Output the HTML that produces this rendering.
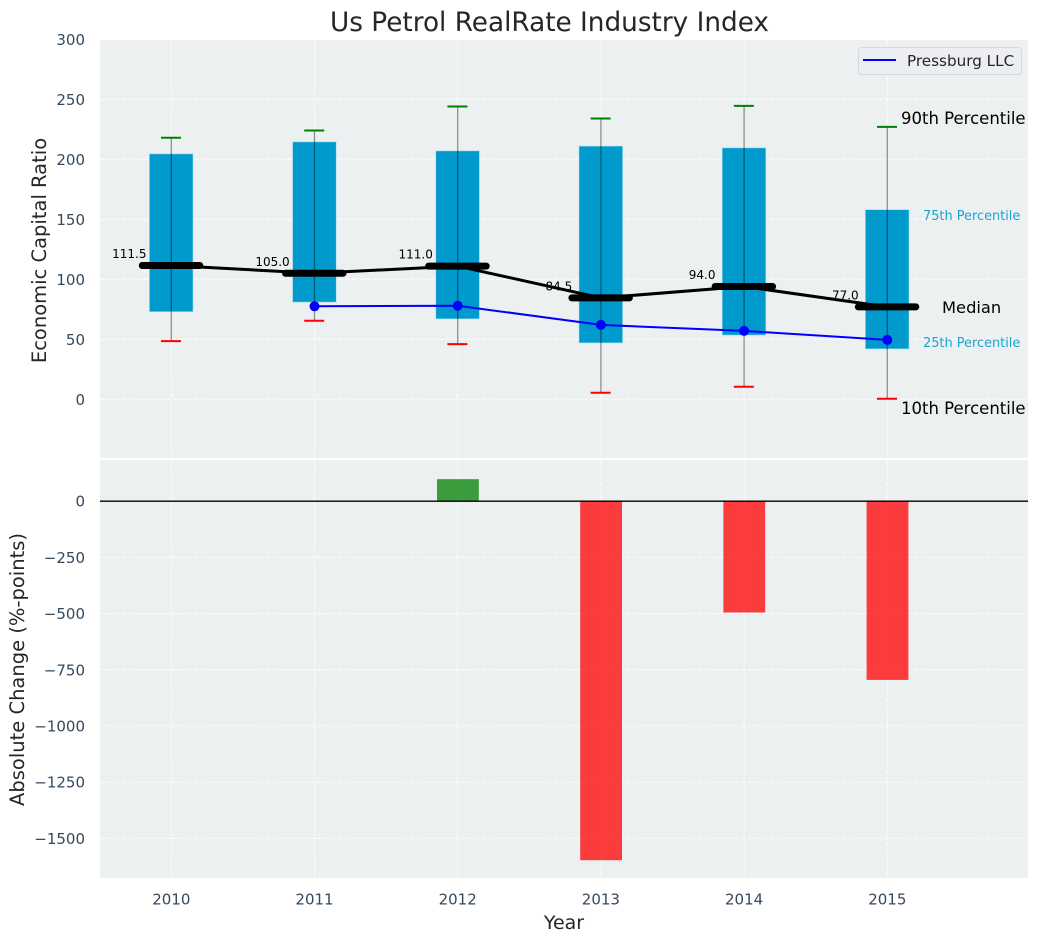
<!DOCTYPE html>
<html lang="en">
<head>
<meta charset="utf-8">
<title>Us Petrol RealRate Industry Index</title>
<style>
html,body{margin:0;padding:0;background:#fff;}
svg{display:block;font-family:"DejaVu Sans","Liberation Sans",sans-serif;}
</style>
</head>
<body>
<svg id="chart" width="1039" height="942" viewBox="0 0 1039 942" xmlns="http://www.w3.org/2000/svg">
  <defs>
    <clipPath id="clip-top"><rect x="100" y="40" width="928" height="418"/></clipPath>
    <clipPath id="clip-bottom"><rect x="100" y="460" width="928" height="418"/></clipPath>
  </defs>
  <text x="549.5" y="31" text-anchor="middle" font-size="26.3" fill="#262626">Us Petrol RealRate Industry Index</text>
  <rect x="100" y="40" width="928" height="418" fill="#ecf0f1"/>
  <rect x="100" y="460" width="928" height="418" fill="#ecf0f1"/>
  <g id="top-grid" clip-path="url(#clip-top)"></g>
  <g id="bottom-grid" clip-path="url(#clip-bottom)"></g>
  <g id="top-marks"></g>
  <g id="bottom-marks" clip-path="url(#clip-bottom)"></g>
  <g id="tick-labels"></g>
  <text transform="translate(46,250.5) rotate(-90)" text-anchor="middle" font-size="19.5" fill="#262626">Economic Capital Ratio</text>
  <text transform="translate(24,669.5) rotate(-90)" text-anchor="middle" font-size="19.5" fill="#262626">Absolute Change (%-points)</text>
  <text x="564" y="929" text-anchor="middle" font-size="19" fill="#262626">Year</text>
  <g>
    <rect x="858.5" y="47.5" width="163" height="27" rx="3" fill="#eceef3" stroke="#d5d8dc" stroke-width="1"/>
    <line x1="863" x2="896" y1="60" y2="60" stroke="#0000ff" stroke-width="2"/>
    <text x="907" y="66" font-size="15.2" fill="#262626">Pressburg LLC</text>
  </g>
  <g>
    <text x="901" y="124" font-size="16.5" fill="#000">90th Percentile</text>
    <text x="923" y="220" font-size="12.9" fill="#1ba3d1">75th Percentile</text>
    <text x="942" y="313" font-size="16.3" fill="#000">Median</text>
    <text x="923" y="347" font-size="12.9" fill="#1ba3d1">25th Percentile</text>
    <text x="901" y="414" font-size="16.5" fill="#000">10th Percentile</text>
  </g>
<script>
const years = [2010, 2011, 2012, 2013, 2014, 2015];
const p90 = [218, 224, 244, 234, 244.5, 227];
const p75 = [204.5, 214.5, 207, 211, 209.5, 158];
const median = [111.5, 105, 111, 84.5, 94, 77];
const p25 = [73, 81, 67, 47, 53.5, 42];
const p10 = [48.5, 65.5, 46, 5.5, 10.5, 0.5];
const pressburg = [null, 77.5, 78, 62, 57, 49.5];
const absoluteChange = [null, null, 98, -1597, -495, -795];
const topTicks = [0, 50, 100, 150, 200, 250, 300];
const bottomTicks = [0, -250, -500, -750, -1000, -1250, -1500];

const NS = 'http://www.w3.org/2000/svg';
function xAxis(i) { return 171.3 + 143.2 * i; }
function xYear(year) { return xAxis(year - years[0]); }
function yTop(v) { return 399.3 - 1.2 * v; }
function yBottom(v) { return 501.2 - 0.2248 * v; }
function mk(parent, tag, attrs, text) {
  const el = document.createElementNS(NS, tag);
  for (const k in attrs) el.setAttribute(k, attrs[k]);
  if (text !== undefined) el.textContent = text;
  parent.appendChild(el);
  return el;
}
const gridStyle = { stroke: '#ffffff', 'stroke-width': 1, 'stroke-dasharray': '5 2.2', opacity: 0.85 };
const topGrid = document.getElementById('top-grid');
const bottomGrid = document.getElementById('bottom-grid');
const topMarks = document.getElementById('top-marks');
const bottomMarks = document.getElementById('bottom-marks');
const tickLabels = document.getElementById('tick-labels');

topTicks.forEach(t => {
  const g = mk(topGrid, 'line', Object.assign({ x1: 100, x2: 1028, y1: yTop(t), y2: yTop(t) }, gridStyle));
  
  
  const l = mk(tickLabels, 'text', { x: 85, y: yTop(t) + 5.5, 'text-anchor': 'end', 'font-size': 15, fill: '#34495e' }, String(t));
  
  
});
bottomTicks.forEach(t => {
  const g = mk(bottomGrid, 'line', Object.assign({ x1: 100, x2: 1028, y1: yBottom(t), y2: yBottom(t) }, gridStyle));
  
  
  const l = mk(tickLabels, 'text', { x: 85, y: yBottom(t) + 5.5, 'text-anchor': 'end', 'font-size': 15, fill: '#34495e' }, String(t).replace('-', '\u2212'));
  
  
});
years.forEach(year => {
  const x = xYear(year);
  const g1 = mk(topGrid, 'line', Object.assign({ x1: x, x2: x, y1: 40, y2: 458 }, gridStyle));
  
  
  const g2 = mk(bottomGrid, 'line', Object.assign({ x1: x, x2: x, y1: 460, y2: 878 }, gridStyle));
  
  
  const l = mk(tickLabels, 'text', { x: x, y: 904.5, 'text-anchor': 'middle', 'font-size': 15, fill: '#34495e' }, String(year));
  
  
});

/* boxes */
years.forEach((year, i) => {
  const x = xAxis(i);
  const box = mk(topMarks, 'rect', { x: x - 21.9, y: yTop(p75[i]), width: 43.6, height: yTop(p25[i]) - yTop(p75[i]), fill: '#009ACD', stroke: '#a9dbec', 'stroke-width': 0.6 });
  
  
});
/* whiskers and caps */
years.forEach((year, i) => {
  const x = xAxis(i);
  const w = mk(topMarks, 'line', { x1: x, x2: x, y1: yTop(p90[i]), y2: yTop(p10[i]), stroke: '#000', 'stroke-opacity': 0.42, 'stroke-width': 1.3 });
  
  
  const hi = mk(topMarks, 'line', { x1: x - 10.3, x2: x + 9.7, y1: yTop(p90[i]), y2: yTop(p90[i]), stroke: '#008000', 'stroke-width': 2 });
  
  
  const lo = mk(topMarks, 'line', { x1: x - 10.3, x2: x + 9.7, y1: yTop(p10[i]), y2: yTop(p10[i]), stroke: '#ff0000', 'stroke-width': 2 });
  
  
});
/* median line */
const medianLine = mk(topMarks, 'polyline', { points: median.map((v, i) => xAxis(i) + ',' + yTop(v)).join(' '), fill: 'none', stroke: '#000', 'stroke-width': 3 });


median.forEach((v, i) => {
  const x = xAxis(i);
  const m = mk(topMarks, 'line', { x1: x - 29, x2: x + 28.5, y1: yTop(v), y2: yTop(v), stroke: '#000', 'stroke-width': 7, 'stroke-linecap': 'round' });
  
  
  const label = mk(topMarks, 'text', { x: x - 42, y: yTop(v) - 7.5, 'text-anchor': 'middle', 'font-size': 12, fill: '#000' }, v.toFixed(1));
  
  
});
/* Pressburg series */
const pts = [];
pressburg.forEach((v, i) => { if (v !== null) pts.push(xAxis(i) + ',' + yTop(v)); });
const pLine = mk(topMarks, 'polyline', { points: pts.join(' '), fill: 'none', stroke: '#0000ff', 'stroke-width': 2 });


pressburg.forEach((v, i) => {
  if (v === null) return;
  const c = mk(topMarks, 'circle', { cx: xAxis(i), cy: yTop(v), r: 5, fill: '#0000ff' });
  
  
});
/* change bars */
absoluteChange.forEach((v, i) => {
  if (v === null) return;
  const x = xAxis(i);
  const top = Math.min(yBottom(v), yBottom(0));
  const h = Math.abs(yBottom(v) - yBottom(0));
  const b = mk(bottomMarks, 'rect', { x: x - 20.7, y: top, width: 41.8, height: h, fill: v >= 0 ? '#008000' : '#ff0000', 'fill-opacity': 0.75 });
  
  
});
const zero = mk(bottomMarks, 'line', { x1: 100, x2: 1028, y1: yBottom(0), y2: yBottom(0), stroke: '#000', 'stroke-width': 1.3 });


</script>
</svg>
</body>
</html>
